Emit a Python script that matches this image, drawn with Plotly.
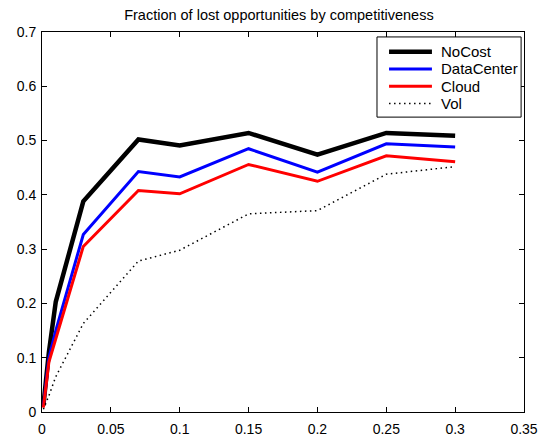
import plotly.graph_objects as go

# Competitiveness levels (x axis)
competitiveness = [0.001, 0.005, 0.01, 0.03, 0.07, 0.1, 0.15, 0.2, 0.25, 0.3]

# Fraction of lost opportunities per strategy
nocost = [0.012, 0.11, 0.203, 0.388, 0.502, 0.491, 0.514, 0.474, 0.514, 0.509]
datacenter = [0.010, 0.100, 0.150, 0.327, 0.443, 0.433, 0.485, 0.442, 0.494, 0.488]
cloud = [0.008, 0.092, 0.135, 0.305, 0.408, 0.402, 0.456, 0.425, 0.472, 0.461]
vol = [0.005, 0.030, 0.065, 0.163, 0.278, 0.298, 0.365, 0.371, 0.438, 0.452]

x_ticks = [0, 0.05, 0.1, 0.15, 0.2, 0.25, 0.3, 0.35]
x_tick_text = ["0", "0.05", "0.1", "0.15", "0.2", "0.25", "0.3", "0.35"]
y_ticks = [0, 0.1, 0.2, 0.3, 0.4, 0.5, 0.6, 0.7]
y_tick_text = ["0", "0.1", "0.2", "0.3", "0.4", "0.5", "0.6", "0.7"]

series = [
    ("NoCost", nocost, dict(color="black", width=4.5)),
    ("DataCenter", datacenter, dict(color="#0000ff", width=3)),
    ("Cloud", cloud, dict(color="#ff0000", width=3)),
    ("Vol", vol, dict(color="black", width=1.5, dash="1.5px,3.5px")),
]

fig = go.Figure()
for name, values, line in series:
    fig.add_trace(go.Scatter(x=competitiveness, y=values, mode="lines",
                             name=name, line=line, showlegend=False))

font_family = "Liberation Sans, Arial, Helvetica, sans-serif"

axis_common = dict(
    showline=True, linecolor="black", linewidth=1, mirror="ticks",
    ticks="inside", ticklen=5, tickcolor="black", tickwidth=1,
    showgrid=False, zeroline=False, automargin=False,
    tickfont=dict(family=font_family, size=14, color="black"),
)

# Boxed legend in the upper-right corner of the axes (paper coordinates)
box_x0, box_x1, box_y0, box_y1 = 0.695, 0.994, 0.776, 0.987
sample_x0, sample_x1, text_x = 0.72, 0.809, 0.824
row_top, row_step = 0.948, 0.0453

shapes = [dict(type="rect", xref="paper", yref="paper",
               x0=box_x0, x1=box_x1, y0=box_y0, y1=box_y1,
               line=dict(color="black", width=1), fillcolor="white",
               layer="above")]
annotations = []
for i, (name, _, line) in enumerate(series):
    yy = row_top - i * row_step
    shapes.append(dict(type="line", xref="paper", yref="paper",
                       x0=sample_x0, x1=sample_x1, y0=yy, y1=yy,
                       line=line, layer="above"))
    annotations.append(dict(text=name, xref="paper", yref="paper",
                            x=text_x, y=yy, xanchor="left", yanchor="middle",
                            showarrow=False,
                            font=dict(family=font_family, size=15,
                                      color="black")))

fig.update_layout(
    width=549, height=437,
    paper_bgcolor="white", plot_bgcolor="white",
    margin=dict(l=42, r=25, t=32, b=25, autoexpand=False),
    title=dict(text="Fraction of lost opportunities by competitiveness",
               x=0.508, xanchor="center", y=0.965, yanchor="middle",
               font=dict(family=font_family, size=14.5, color="black")),
    xaxis=dict(range=[0, 0.35], tickvals=x_ticks, ticktext=x_tick_text,
               ticklabelstandoff=4, **axis_common),
    yaxis=dict(range=[0, 0.7], tickvals=y_ticks, ticktext=y_tick_text,
               ticklabelstandoff=2, **axis_common),
    shapes=shapes,
    annotations=annotations,
    showlegend=False,
)

fig.write_html("out.html")
